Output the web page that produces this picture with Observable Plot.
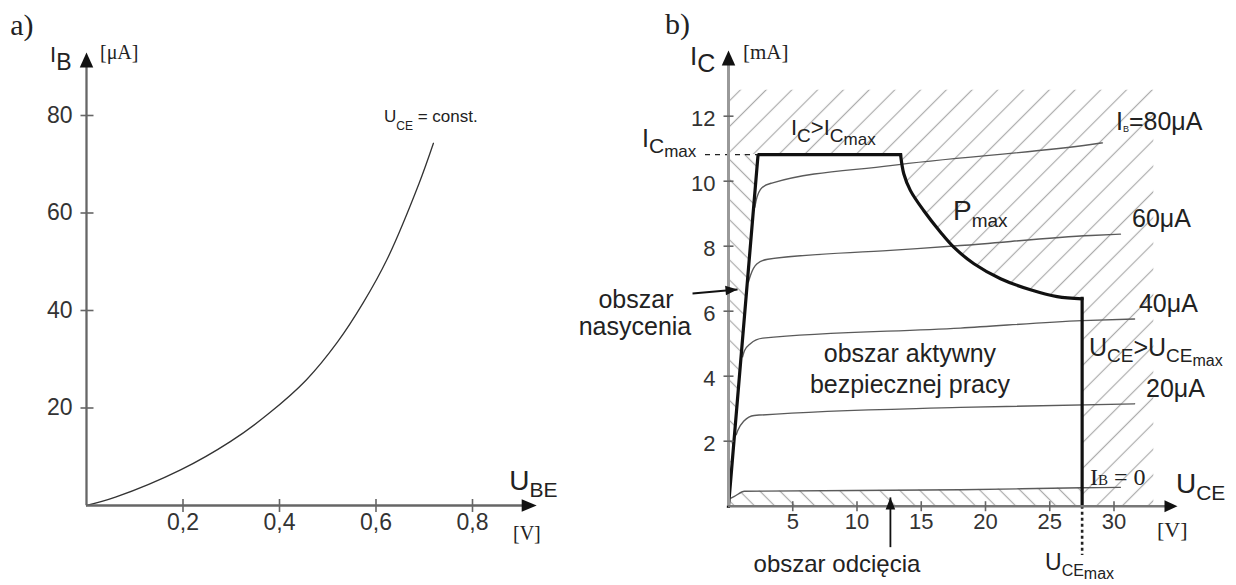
<!DOCTYPE html>
<html><head><meta charset="utf-8">
<script src="https://cdn.jsdelivr.net/npm/d3@7"></script>
<script src="https://cdn.jsdelivr.net/npm/@observablehq/plot@0.6"></script>
<style>
html,body{margin:0;padding:0;background:#fff;}
#wrap{position:relative;width:1236px;height:585px;overflow:hidden;background:#fff;}
#pa{position:absolute;left:0;top:0;}
#pb{position:absolute;left:560px;top:0;}
svg{overflow:visible}
</style></head><body>
<div id="wrap"><div id="pa"></div><div id="pb"></div></div>
<script>
const SANS = "'Liberation Sans', Arial, Helvetica, sans-serif";
const SERIF = "'Liberation Serif', 'Times New Roman', serif";
const NS = "http://www.w3.org/2000/svg";

// ---------- Panel a: input characteristic ----------
const ubeV = [0, 0.06, 0.195, 0.298, 0.377, 0.456, 0.52, 0.573, 0.623, 0.689, 0.719];
const ibUA = [0, 1.7, 7.3, 13.1, 18.8, 25.8, 33.5, 41.5, 50.5, 66.0, 74.3];
const aXTicks = [0.2, 0.4, 0.6, 0.8];
const aXTickLabels = ["0,2", "0,4", "0,6", "0,8"];
const aYTicks = [20, 40, 60, 80];
const aYTickLabels = ["20", "40", "60", "80"];

// ---------- Panel b: output characteristics ----------
const bXTicks = [5, 10, 15, 20, 25, 30];
const bYTicks = [2, 4, 6, 8, 10, 12];
const ibSeries = ["0", "20", "40", "60", "80"];
const uceIB0 = [0.2, 0.46, 1.24, 18.05, 27.52, 30.5];
const icIB0 = [0.25, 0.30, 0.46, 0.505, 0.566, 0.58];
const uceIB20 = [0.6, 0.72, 1.2, 2.0, 18.05, 31.6];
const icIB20 = [2.2, 2.33, 2.62, 2.79, 3.04, 3.15];
const uceIB40 = [1.1, 1.24, 1.7, 2.67, 18.05, 27.52, 31.6];
const icIB40 = [4.6, 4.78, 5.0, 5.17, 5.48, 5.71, 5.76];
const uceIB60 = [1.55, 1.7, 2.2, 3.06, 12.6, 18.05, 28.2, 30.5];
const icIB60 = [6.9, 7.09, 7.45, 7.6, 7.87, 8.02, 8.33, 8.37];
const uceIB80 = [2.05, 2.14, 2.6, 3.44, 12.6, 28.2, 29.1];
const icIB80 = [9.2, 9.39, 9.8, 9.95, 10.48, 11.13, 11.18];

// safe operating area boundary
const socRiseU = [0, 2.3, 13.39];
const socRiseI = [0, 10.82, 10.82];
const pmaxU = [13.39, 13.64, 14.16, 15.2, 16.5, 17.53, 19.1, 21.17, 23.5, 25.58, 27.52];
const pmaxI = [10.82, 10.23, 9.71, 9.09, 8.43, 7.97, 7.46, 7.0, 6.66, 6.45, 6.38];
const icMax = 10.82;
const uceMax = 27.52;
const hatchTop = 12.8;
const hatchRight = 33.1;

// ---------- helpers ----------
const tickV = {draw(ctx, size) { const r = Math.sqrt(size / Math.PI); ctx.moveTo(0, -r); ctx.lineTo(0, r); }};
const tickH = {draw(ctx, size) { const r = Math.sqrt(size / Math.PI); ctx.moveTo(-r, 0); ctx.lineTo(r, 0); }};
function arrowSym(angleDeg, ratio) {
  const a = angleDeg * Math.PI / 180, cx = Math.cos(a), cy = Math.sin(a);
  return {draw(ctx, size) {
    const L = Math.sqrt(size / Math.PI), W = L * ratio;
    const bx = -L * cx, by = -L * cy, px = -cy, py = cx;
    ctx.moveTo(0, 0);
    ctx.lineTo(bx + W * px, by + W * py);
    ctx.lineTo(bx - W * px, by - W * py);
    ctx.closePath();
  }};
}
function richLabels(items) {
  return (index, scales) => {
    const g = document.createElementNS(NS, "g");
    for (const it of items) {
      const t = document.createElementNS(NS, "text");
      t.setAttribute("x", scales.x(it.x));
      t.setAttribute("y", scales.y(it.y));
      t.setAttribute("font-family", it.serif ? SERIF : SANS);
      t.setAttribute("fill", it.color || "#222");
      t.setAttribute("text-anchor", it.anchor || "start");
      t.style.whiteSpace = "pre";
      let prev = 0;
      for (const [s, size, shift] of it.parts) {
        const ts = document.createElementNS(NS, "tspan");
        ts.setAttribute("font-size", size);
        ts.setAttribute("dy", shift - prev);
        prev = shift;
        ts.textContent = s;
        t.appendChild(ts);
      }
      g.appendChild(t);
    }
    return g;
  };
}
function hatchDefs() {
  return () => {
    const defs = document.createElementNS(NS, "defs");
    const mk = (id, w, rot, color) => {
      const p = document.createElementNS(NS, "pattern");
      p.setAttribute("id", id);
      p.setAttribute("patternUnits", "userSpaceOnUse");
      p.setAttribute("width", w);
      p.setAttribute("height", w);
      p.setAttribute("patternTransform", `rotate(${rot})`);
      const l = document.createElementNS(NS, "line");
      l.setAttribute("x1", w / 2); l.setAttribute("x2", w / 2);
      l.setAttribute("y1", -1); l.setAttribute("y2", w + 1);
      l.setAttribute("stroke", color);
      l.setAttribute("stroke-width", 1.2);
      p.appendChild(l);
      defs.appendChild(p);
    };
    mk("hatchF", 18.2, 45, "#ababab");
    mk("hatchB", 14.2, -45, "#ababab");
    return defs;
  };
}

// ---------- Panel a ----------
const aRows = ubeV.map((u, i) => ({u, ib: ibUA[i]}));
const aYTip = 92.9, aXTip = 0.933;
const aLabels = [
  {x: -0.157, y: 96.4, serif: true, parts: [["a)", 30, 0]]},
  {x: -0.0746, y: 90.87, parts: [["I", 22, 0], ["B", 23, 8]]},
  {x: 0.029, y: 91.5, serif: true, parts: [["[μA]", 20, 0]]},
  {x: 0.6176, y: 78.56, parts: [["U", 17, 0], ["CE", 12, 8], [" = const.", 17, 0]]},
  {x: 0.877, y: 3.08, parts: [["U", 28, 0], ["BE", 21, 7]]},
  {x: 0.885, y: -7.18, serif: true, parts: [["[V]", 20, 0]]}
];

const plotA = Plot.plot({
  width: 560, height: 585,
  marginLeft: 86, marginRight: 39.75, marginTop: 66.25, marginBottom: 80,
  style: {background: "transparent", overflow: "visible"},
  x: {domain: [0, 0.9], axis: null},
  y: {domain: [0, 90], axis: null},
  marks: [
    Plot.line(aRows, {x: "u", y: "ib", curve: "catmull-rom", stroke: "#333", strokeWidth: 1.3}),
    Plot.ruleX([0], {x: d => d, y1: 0, y2: aYTip - 1, stroke: "#666", strokeWidth: 2.3}),
    Plot.ruleY([0], {y: d => d, x1: 0, x2: aXTip - 0.01, stroke: "#666", strokeWidth: 2.3}),
    Plot.dot(aYTicks, {x: 0, y: d => d, symbol: tickH, r: 6.5, dx: 0.5, fill: "none", stroke: "#666", strokeWidth: 1.6}),
    Plot.dot(aXTicks, {x: d => d, y: 0, symbol: tickV, r: 6.5, fill: "none", stroke: "#666", strokeWidth: 1.6}),
    Plot.dot([0], {x: 0, y: aYTip, symbol: arrowSym(-90, 0.45), r: 15, fill: "#111", stroke: "none"}),
    Plot.dot([0], {x: aXTip, y: 0, symbol: arrowSym(0, 0.42), r: 15, fill: "#111", stroke: "none"}),
    Plot.text(aYTicks, {x: 0, y: d => d, text: (d, i) => aYTickLabels[i], dx: -14, textAnchor: "end", lineAnchor: "middle", fontSize: 23, fontFamily: SANS, fill: "#333"}),
    Plot.text(aXTicks, {x: d => d, y: 0, text: (d, i) => aXTickLabels[i], dy: 8, textAnchor: "middle", lineAnchor: "top", fontSize: 23, fontFamily: SANS, fill: "#333"}),
    richLabels(aLabels)
  ]
});
document.getElementById("pa").appendChild(plotA);

// ---------- Panel b ----------
const bSeries = [[uceIB0, icIB0], [uceIB20, icIB20], [uceIB40, icIB40], [uceIB60, icIB60], [uceIB80, icIB80]];
const curveRows = bSeries.flatMap(([us, is], k) => us.map((u, j) => ({ib: ibSeries[k], u, ic: is[j]})));
const cutoffRows = uceIB0.map((u, j) => ({u, ic: icIB0[j]})).filter(d => d.u <= uceMax);
const riseRows = socRiseU.map((u, j) => ({u, ic: socRiseI[j]}));
const pmaxRows = pmaxU.map((u, j) => ({u, ic: pmaxI[j]}));
const overloadRows = [{u: 0, ic: icMax}, ...pmaxRows, {u: uceMax, ic: 0}, {u: hatchRight, ic: 0}];
const satRows = [{ic: 0, u: 0}, {ic: icMax, u: socRiseU[1]}];
const bYTip = 14.02, bXTip = 34.94;

const bLabels = [
  {x: -4.90, y: 14.51, serif: true, parts: [["b)", 30, 0]]},
  {x: -2.95, y: 13.56, parts: [["I", 26, 0], ["C", 25, 7]]},
  {x: 1.167, y: 13.745, serif: true, parts: [["[mA]", 21, 0]]},
  {x: -6.69, y: 11.04, parts: [["I", 25, 0], ["C", 21, 6], ["max", 17, 10]]},
  {x: 4.90, y: 11.41, parts: [["I", 22, 0], ["C", 19, 7], [">", 22, 0], ["I", 22, 0], ["C", 19, 7], ["max", 17, 10]]},
  {x: 30.19, y: 11.56, parts: [["I", 25, 0], ["B", 9, 2], ["=80μA", 25, 0]]},
  {x: 31.44, y: 8.575, parts: [["60μA", 25, 0]]},
  {x: 31.98, y: 5.96, parts: [["40μA", 25, 0]]},
  {x: 32.53, y: 3.345, parts: [["20μA", 25, 0]]},
  {x: 17.51, y: 8.79, parts: [["P", 28, 0], ["max", 19, 7]]},
  {x: 28.09, y: 4.606, parts: [["U", 25, 0], ["CE", 19, 6], [">", 25, 0], ["U", 25, 0], ["CE", 19, 6], ["max", 16, 10]]},
  {x: 28.17, y: 0.637, serif: true, parts: [["I", 24, 0], ["B", 15, 0], [" = 0", 24, 0]]},
  {x: 34.86, y: 0.39, parts: [["U", 28, 0], ["CE", 21, 7]]},
  {x: 33.39, y: -0.963, serif: true, parts: [["[V]", 22, 0]]},
  {x: 24.67, y: -1.99, parts: [["U", 23, 0], ["CE", 16, 6], ["max", 16, 9]]},
  {x: 8.48, y: -2.04, anchor: "middle", parts: [["obszar odcięcia", 24, 0]]},
  {x: 14.16, y: 4.42, anchor: "middle", parts: [["obszar aktywny", 25, 0]]},
  {x: 14.16, y: 3.47, anchor: "middle", parts: [["bezpiecznej pracy", 25, 0]]},
  {x: -7.16, y: 6.08, anchor: "middle", parts: [["obszar", 25, 0]]},
  {x: -7.24, y: 5.25, anchor: "middle", parts: [["nasycenia", 25, 0]]}
];

const plotB = Plot.plot({
  width: 676, height: 585,
  marginLeft: 168, marginRight: 58.25, marginTop: 34.45, marginBottom: 79.3,
  style: {background: "transparent", overflow: "visible"},
  x: {domain: [0, 35], axis: null},
  y: {domain: [0, 14.5], axis: null},
  marks: [
    hatchDefs(),
    Plot.areaY(overloadRows, {x: "u", y1: "ic", y2: hatchTop, fill: "url(#hatchF)"}),
    Plot.areaX(satRows, {y: "ic", x1: 0, x2: "u", fill: "url(#hatchB)"}),
    Plot.areaY(cutoffRows, {x: "u", y1: 0, y2: "ic", fill: "url(#hatchB)"}),
    Plot.line(curveRows, {x: "u", y: "ic", z: "ib", curve: "monotone-x", stroke: "#5a5a5a", strokeWidth: 1.4}),
    Plot.line(riseRows, {x: "u", y: "ic", stroke: "#111", strokeWidth: 3.2, strokeLinejoin: "miter", strokeLinecap: "square"}),
    Plot.line(pmaxRows, {x: "u", y: "ic", curve: "catmull-rom", stroke: "#111", strokeWidth: 3.2}),
    Plot.ruleX([uceMax], {x: d => d, y1: 0, y2: pmaxI[pmaxI.length - 1], stroke: "#111", strokeWidth: 3.2, strokeLinecap: "square"}),
    Plot.ruleY([icMax], {y: d => d, x1: -1.79, x2: socRiseU[1], stroke: "#222", strokeWidth: 1.3, strokeDasharray: "5,5"}),
    Plot.ruleX([uceMax], {x: d => d, y1: 0, y2: -1.52, stroke: "#222", strokeWidth: 2.6, strokeDasharray: "3,3"}),
    Plot.ruleX([0], {x: d => d, y1: 0, y2: bYTip - 0.2, stroke: "#999", strokeWidth: 3}),
    Plot.ruleY([0], {y: d => d, x1: 0, x2: bXTip - 0.3, stroke: "#777", strokeWidth: 2.5}),
    Plot.dot(bYTicks, {x: 0, y: d => d, symbol: tickH, r: 5, fill: "none", stroke: "#666", strokeWidth: 1.6}),
    Plot.dot(bXTicks, {x: d => d, y: 0, symbol: tickV, r: 5, fill: "none", stroke: "#666", strokeWidth: 1.6}),
    Plot.dot([0], {x: 0, y: bYTip, symbol: arrowSym(-90, 0.45), r: 15, fill: "#111", stroke: "none"}),
    Plot.dot([0], {x: bXTip, y: 0, symbol: arrowSym(0, 0.46), r: 13, fill: "#111", stroke: "none"}),
    Plot.link([0], {x1: -2.8, y1: 6.545, x2: 0.70, y2: 6.668, stroke: "#111", strokeWidth: 1.8}),
    Plot.dot([0], {x: 0.70, y: 6.668, symbol: arrowSym(-5, 0.4), r: 12, fill: "#111", stroke: "none"}),
    Plot.link([0], {x1: 12.6, y1: -1.26, x2: 12.6, y2: 0.27, stroke: "#111", strokeWidth: 1.8}),
    Plot.dot([0], {x: 12.6, y: 0.27, symbol: arrowSym(-90, 0.4), r: 12, fill: "#111", stroke: "none"}),
    Plot.text(bYTicks, {x: 0, y: d => d, text: d => String(d), dx: -13, dy: 3, textAnchor: "end", lineAnchor: "middle", fontSize: 22, fontFamily: SANS, fill: "#333"}),
    Plot.text(bXTicks, {x: d => d, y: 0, text: d => String(d), dy: 7.3, textAnchor: "middle", lineAnchor: "top", fontSize: 22, fontFamily: SANS, fill: "#333"}),
    richLabels(bLabels)
  ]
});
document.getElementById("pb").appendChild(plotB);
</script></body></html>
